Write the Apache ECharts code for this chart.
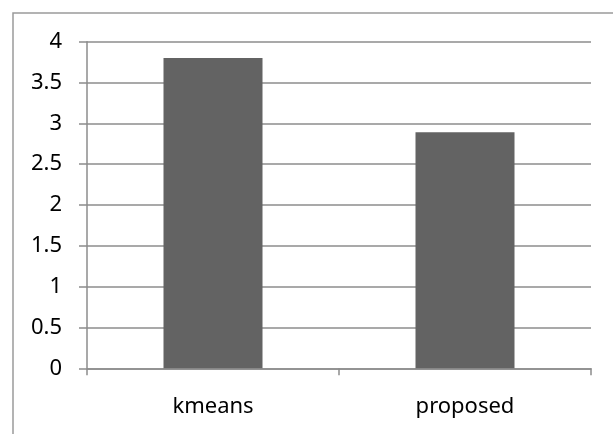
<!DOCTYPE html>
<html>
<head>
<meta charset="utf-8">
<script src="https://cdn.jsdelivr.net/npm/echarts@6/dist/echarts.min.js"></script>
<style>html,body{margin:0;padding:0;background:#fff}#c{width:613px;height:434px}</style>
</head>
<body>
<div id="c"></div>
<script>
const categories = ['kmeans', 'proposed'];
const values = [3.8, 2.89];
const yTicks = { min: 0, max: 4, interval: 0.5 };

const chart = echarts.init(document.getElementById('c'), null, { renderer: 'canvas' });
const font = 'Noto Sans';
chart.setOption({
  animation: false,
  backgroundColor: '#ffffff',
  graphic: [{
    type: 'rect',
    shape: { x: 13, y: 13, width: 800, height: 600 },
    style: { fill: 'none', stroke: '#9a9a9a', lineWidth: 1.5 },
    silent: true
  }],
  grid: { left: 87, right: 22, top: 41.7, bottom: 65.7, containLabel: false },
  xAxis: {
    type: 'category',
    data: categories,
    axisLine: { show: true, lineStyle: { color: '#8c8c8c', width: 1.5 } },
    axisTick: { show: true, alignWithLabel: false, length: 7, lineStyle: { color: '#8c8c8c', width: 1.5 } },
    axisLabel: { color: '#000', fontFamily: font, fontSize: 22, margin: 27 },
    splitLine: { show: false }
  },
  yAxis: {
    type: 'value',
    min: yTicks.min, max: yTicks.max, interval: yTicks.interval,
    axisLine: { show: true, lineStyle: { color: '#8c8c8c', width: 1.5 } },
    axisTick: { show: true, length: 8, lineStyle: { color: '#8c8c8c', width: 1.5 } },
    axisLabel: { color: '#000', fontFamily: font, fontSize: 22, margin: 25 },
    splitLine: { show: true, lineStyle: { color: '#8c8c8c', width: 1.5 } }
  },
  series: [{
    type: 'bar',
    data: values,
    barWidth: 99,
    itemStyle: { color: '#636363' }
  }]
});
</script>
</body>
</html>
